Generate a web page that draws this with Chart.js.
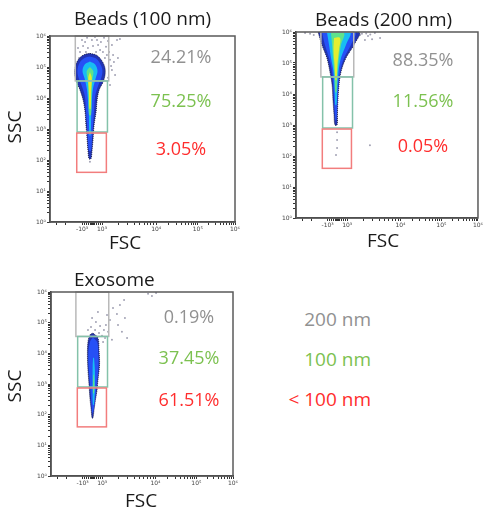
<!DOCTYPE html>
<html>
<head>
<meta charset="utf-8">
<script src="https://cdn.jsdelivr.net/npm/chart.js@4.4.1/dist/chart.umd.min.js"></script>
<style>
  body { margin: 0; background: #fff; }
  #wrap { position: relative; width: 484px; height: 514px; overflow: hidden; background: #fff; font-family: 'Open Sans', sans-serif; }
  #wrap canvas { position: absolute; }
  .key { position: absolute; right: 113px; font-size: 19px; line-height: 19px; white-space: nowrap; }
</style>
</head>
<body>
<div id="wrap">
  <canvas id="p1"></canvas>
  <canvas id="p2"></canvas>
  <canvas id="p3"></canvas>
</div>
<script>
// ---- data ----
const panelTitles = ['Beads (100 nm)', 'Beads (200 nm)', 'Exosome'];
const gateNames = ['200 nm', '100 nm', '< 100 nm'];
const beads100Pct = ['24.21%', '75.25%', '3.05%'];
const beads200Pct = ['88.35%', '11.56%', '0.05%'];
const exosomePct = ['0.19%', '37.45%', '61.51%'];

// gates, x in FSC display channels (0-1024), y in SSC
const gateChannels = [[140, 325], [150, 318], [148, 312]];
const gateSSC = [[35500, 1e6], [800, 35500], [40, 740]];

const sscTicks = [1, 10, 100, 1e3, 1e4, 1e5, 1e6];
const sscTickLabels = ['10⁰', '10¹', '10²', '10³', '10⁴', '10⁵', '10⁶'];
const fscTicks = [-1e3, 1e3, 1e4, 1e5, 1e6];
const fscTickLabels = ['-10³', '10³', '10⁴', '10⁵', '10⁶'];

// density contours: [channel, log10 SSC]
const b100Outer = [[221,5.44],[258,5.38],[285,5.22],[303,5.00],[305,4.76],[294,4.52],[272,4.26],[261,3.94],[255,3.55],[244,3.13],[238,2.65],[232,2.26],[227,2.04],[216,2.04],[210,2.32],[205,2.71],[199,3.13],[194,3.55],[183,3.94],[166,4.26],[148,4.52],[137,4.77],[141,5.03],[158,5.25],[186,5.39]];
const b100Blue = [[221,5.34],[253,5.28],[276,5.12],[290,4.90],[284,4.65],[266,4.39],[250,4.06],[244,3.61],[238,3.13],[232,2.65],[227,2.30],[216,2.30],[210,2.65],[205,3.13],[199,3.61],[193,4.06],[176,4.39],[158,4.65],[152,4.90],[164,5.14],[191,5.29]];
const b100Cyan = [[221,5.18],[250,5.08],[263,4.87],[252,4.62],[238,4.30],[232,3.94],[228,3.45],[225,2.80],[218,2.80],[215,3.45],[210,3.94],[204,4.30],[192,4.62],[180,4.87],[192,5.08]];
const b100Green = [[221,5.00],[240,4.86],[234,4.58],[230,4.10],[227,3.45],[216,3.45],[213,4.10],[209,4.58],[203,4.86]];
const b100Yellow = [[221,4.84],[231,4.66],[228,4.26],[225,3.65],[218,3.65],[215,4.26],[212,4.66]];
const b100Dots = [[194,5.81],[232,5.87],[266,5.71],[299,5.94],[277,5.55],[210,5.61],[166,5.48],[315,5.39],[332,5.23],[354,5.16],[376,5.29],[343,4.90],[371,5.87],[255,5.48],[183,5.68],[310,5.65],[360,4.74],[321,4.65],[387,5.90],[332,4.42],[221,1.94],
  [177,5.87],[205,5.94],[249,5.97],[282,5.81],[321,5.84],[343,5.71],[293,5.48],[155,5.61],[238,5.68],[327,5.48],[349,5.39],[199,5.48],[260,5.87],[304,5.29],[338,5.03],[161,5.29]];

const b200Outer = [[124,6.0],[354,6.0],[326,5.58],[281,5.16],[253,4.71],[242,4.29],[236,3.81],[233,3.32],[231,3.0],[219,3.0],[214,3.32],[208,3.81],[203,4.29],[191,4.71],[174,5.16],[146,5.58]];
const b200Blue = [[146,6.0],[332,6.0],[309,5.58],[270,5.16],[248,4.71],[236,4.13],[231,3.48],[227,3.16],[222,3.16],[217,3.48],[211,4.13],[203,4.71],[186,5.16],[163,5.58]];
const b200Cyan = [[174,6.0],[304,6.0],[281,5.58],[253,5.16],[239,4.71],[232,4.13],[228,3.65],[221,3.65],[217,4.13],[211,4.71],[197,5.16],[186,5.58]];
const b200Green = [[197,5.97],[270,5.97],[253,5.58],[242,5.16],[233,4.61],[228,4.06],[221,4.06],[217,4.61],[208,5.16],[203,5.58]];
const b200Yellow = [[214,5.81],[248,5.81],[242,5.42],[233,4.94],[228,4.45],[222,4.45],[217,4.94],[211,5.42]];
const b200Dots = [[371,5.94],[405,5.87],[444,5.97],[473,5.81],[388,5.74],[428,5.77],[79,5.94],[51,5.97],[231,2.77],[231,2.52],[231,2.26],[225,2.03],[416,2.35],
  [360,5.90],[395,5.95],[418,5.92],[100,5.90]];

const exoOuter = [[236,4.66],[264,4.50],[270,4.11],[273,3.62],[264,3.13],[259,2.80],[250,2.48],[242,2.15],[236,1.89],[231,1.89],[225,2.22],[219,2.54],[214,2.97],[208,3.46],[205,3.95],[208,4.37],[219,4.60]];
const exoBlue = [[236,4.52],[260,4.36],[266,3.95],[266,3.46],[257,2.97],[249,2.54],[240,2.15],[233,2.05],[228,2.32],[224,2.64],[218,3.07],[212,3.52],[211,4.04],[221,4.40]];
const exoCyan = [[242,3.85],[247,3.46],[247,2.80],[241,2.32],[236,2.32],[234,2.80],[234,3.46],[237,3.85]];
const exoGreen = [[242,3.30],[244,2.97],[242,2.70],[237,2.70],[236,2.97],[239,3.30]];
const exoDots = [[231,5.15],[253,5.02],[276,4.89],[298,4.76],[264,5.35],[315,5.25],[332,5.09],[349,5.48],[371,5.28],[388,5.58],[411,5.74],[377,4.92],[399,4.70],[428,4.50],[416,5.15],[546,5.94],[568,5.87],[591,5.97],[287,4.57],[208,4.76],[248,4.76],[321,4.70],[343,4.44],
  [253,4.27],[293,4.37],[270,4.66],[304,4.50],[225,4.86],[309,4.92]];

// ---- look ----
const gateColors = ['#b9b9b9', '#84c2aa', '#f27d7d'];
const textColors = ['#919191', '#7cc150', '#ff2d2d'];
const levelColors = ['#2234b4', '#2650f6', '#18bdf2', '#5ee28c', '#e2ee30'];

// display transform for FSC (linear near zero, log decades above)
const decadeCh = [288, 588, 818, 1024];
function fscToCh(v) {
  if (Math.abs(v) <= 1000) return 233 + v * 0.055;
  const d = Math.log10(Math.abs(v)) - 3;
  if (v < 0) return 178 - d * 300;
  const k = Math.min(Math.floor(d), 2);
  return decadeCh[k] + (d - k) * (decadeCh[k + 1] - decadeCh[k]);
}

function xTickList() {
  const list = [];
  fscTicks.forEach((v, i) => list.push({ value: fscToCh(v), lab: fscTickLabels[i] }));
  [-3000, -2000, -800, -600, -400, -200, 0, 200, 400, 600, 800].forEach(v => list.push({ value: fscToCh(v), lab: '', zero: v === 0 }));
  for (let k = 3; k < 6; k++) {
    for (let m = 2; m < 10; m++) list.push({ value: fscToCh(m * 10 ** k), lab: '' });
  }
  return list.filter(t => t.value >= 0 && t.value <= 1024).sort((a, b) => a.value - b.value);
}

function yTickList() {
  const list = [];
  sscTicks.forEach((v, i) => {
    list.push({ value: v, lab: sscTickLabels[i] });
    if (i < sscTicks.length - 1) {
      for (let m = 2; m < 10; m++) list.push({ value: m * v, lab: '' });
    }
  });
  return list;
}

function contour(points, color, edge) {
  const data = points.map(p => ({ x: p[0], y: 10 ** p[1] }));
  data.push(data[0]);
  return {
    type: 'line', data, fill: 'shape', tension: 0.35, pointRadius: 0,
    backgroundColor: color, borderColor: edge || color, borderWidth: edge ? 1 : 0,
    borderDash: edge ? [1, 1] : []
  };
}

function dots(points) {
  return {
    type: 'line', showLine: false,
    data: points.map(p => ({ x: p[0], y: 10 ** p[1] })),
    pointRadius: 1, pointBorderWidth: 0, pointBackgroundColor: '#a2a2b4'
  };
}

const panels = [
  { id: 'p1', left: 0, top: 0, w: 242, h: 258, yw: 50, xh: 36, padTop: 36, padRight: 7,
    title: [74, 25], ssc: [16, 127], fsc: [125, 249], pctX: 181, pctY: [63, 107, 155],
    name: panelTitles[0], pct: beads100Pct,
    levels: [b100Outer, b100Blue, b100Cyan, b100Green, b100Yellow], dots: b100Dots },
  { id: 'p2', left: 246, top: 0, w: 238, h: 255, yw: 50, xh: 37, padTop: 32, padRight: 6,
    title: [69, 26], ssc: null, fsc: [137, 247], pctX: 177, pctY: [66, 107, 152],
    name: panelTitles[1], pct: beads200Pct,
    levels: [b200Outer, b200Blue, b200Cyan, b200Green, b200Yellow], dots: b200Dots },
  { id: 'p3', left: 0, top: 256, w: 242, h: 258, yw: 51, xh: 38, padTop: 36, padRight: 9,
    title: [74, 30], ssc: [16, 130], fsc: [141, 251], pctX: 189, pctY: [67, 108, 150],
    name: panelTitles[2], pct: exosomePct,
    levels: [exoOuter, exoBlue, exoCyan, exoGreen], dots: exoDots }
];

const panelDeco = {
  id: 'panelDeco',
  afterDatasetsDraw(chart, args, o) {
    const { ctx, chartArea: a, scales: { x, y } } = chart;
    ctx.save();
    gateChannels.forEach((gx, i) => {
      const gy = gateSSC[i];
      const l = x.getPixelForValue(gx[0]), r = x.getPixelForValue(gx[1]);
      const t = y.getPixelForValue(gy[1]), b = y.getPixelForValue(gy[0]);
      ctx.strokeStyle = gateColors[i];
      ctx.lineWidth = 1.5;
      ctx.strokeRect(l, t, r - l, b - t);
    });
    ctx.strokeStyle = '#5a5a5a';
    ctx.lineWidth = 1.5;
    ctx.strokeRect(a.left, a.top, a.right - a.left, a.bottom - a.top);
    ctx.font = '18px "Open Sans"';
    ctx.textAlign = 'center';
    o.pct.forEach((p, i) => {
      ctx.fillStyle = textColors[i];
      ctx.fillText(p, o.pctX, o.pctY[i]);
    });
    ctx.restore();
  },
  afterDraw(chart, args, o) {
    const ctx = chart.ctx;
    ctx.save();
    ctx.fillStyle = '#1a1a1a';
    ctx.font = '19px "Open Sans"';
    ctx.textAlign = 'left';
    ctx.fillText(o.name, o.title[0], o.title[1]);
    ctx.textAlign = 'center';
    ctx.fillText('FSC', o.fsc[0], o.fsc[1]);
    if (o.ssc) {
      ctx.translate(o.ssc[0], o.ssc[1]);
      ctx.rotate(-Math.PI / 2);
      ctx.textBaseline = 'middle';
      ctx.fillText('SSC', 0, 0);
    }
    ctx.restore();
  }
};

const tickFont = { family: 'DejaVu Sans', size: 6 };

panels.forEach(p => {
  const cv = document.getElementById(p.id);
  cv.width = p.w; cv.height = p.h;
  cv.style.left = p.left + 'px'; cv.style.top = p.top + 'px';
  cv.style.width = p.w + 'px'; cv.style.height = p.h + 'px';

  const datasets = [];
  p.levels.forEach((lv, i) => {
    const ds = contour(lv, levelColors[i], i === 0 ? 'rgba(10,10,40,0.8)' : null);
    ds.order = 10 - i;
    datasets.push(ds);
  });
  const d = dots(p.dots);
  d.order = 20;
  datasets.push(d);

  new Chart(cv, {
    type: 'line',
    data: { datasets },
    options: {
      responsive: false,
      animation: false,
      events: [],
      layout: { padding: { top: p.padTop, right: p.padRight, left: 0, bottom: 0 } },
      plugins: { legend: { display: false }, tooltip: { enabled: false }, panelDeco: p },
      scales: {
        x: {
          type: 'linear', min: 0, max: 1024,
          afterBuildTicks: s => { s.ticks = xTickList(); },
          afterFit: s => { s.height = p.xh; },
          ticks: { autoSkip: false, maxRotation: 0, padding: 1, font: tickFont, color: '#444',
            callback: (v, i, t) => t[i].lab },
          grid: { drawOnChartArea: false, tickLength: 3, tickColor: '#333',
            tickWidth: c => (c.tick && c.tick.zero ? 3 : 1) },
          border: { color: '#333', width: 1.5 }
        },
        y: {
          type: 'logarithmic', min: 1, max: 1e6,
          afterBuildTicks: s => { s.ticks = yTickList(); },
          afterFit: s => { s.width = p.yw; },
          ticks: { autoSkip: false, padding: 1, font: tickFont, color: '#444',
            callback: (v, i, t) => t[i].lab },
          grid: { drawOnChartArea: false, tickLength: 3, tickColor: '#333' },
          border: { color: '#333', width: 1.5 }
        }
      }
    },
    plugins: [panelDeco]
  });
});

// key on the right
const keyTops = [310, 350, 390];
gateNames.forEach((n, i) => {
  const el = document.createElement('div');
  el.className = 'key';
  el.style.top = keyTops[i] + 'px';
  el.style.color = textColors[i];
  el.textContent = n;
  document.getElementById('wrap').appendChild(el);
});
</script>
</body>
</html>
